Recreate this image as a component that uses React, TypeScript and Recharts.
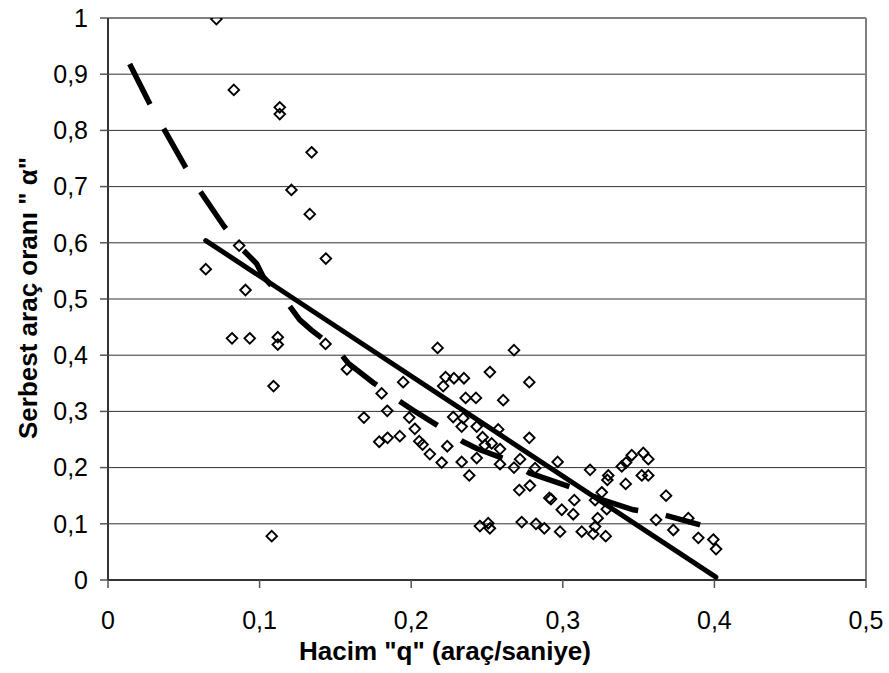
import React from 'react';
import { ScatterChart, Scatter, XAxis, YAxis, CartesianGrid, ReferenceLine, Label } from 'recharts';

const qValues = [
  0.0715, 0.083, 0.1133, 0.1133, 0.121, 0.0865, 0.0645, 0.0907, 0.1343, 0.1331,
  0.1437, 0.0818, 0.0935, 0.112, 0.112, 0.1092, 0.108, 0.1435, 0.2174, 0.1576,
  0.1947, 0.2227, 0.2282, 0.2348, 0.2211, 0.1805, 0.2359, 0.2427, 0.1842, 0.1688,
  0.1987, 0.2277, 0.2343, 0.2333, 0.2432, 0.2024, 0.1789, 0.1844, 0.1925, 0.2053,
  0.2075, 0.2123, 0.2238, 0.2201, 0.2333, 0.2432, 0.2383, 0.2678, 0.2519, 0.2779,
  0.2607, 0.2574, 0.2471, 0.2779, 0.2486, 0.2531, 0.2586, 0.2586, 0.2718, 0.2678,
  0.2966, 0.2817, 0.318, 0.33, 0.3389, 0.3417, 0.3455, 0.3531, 0.3564, 0.3521,
  0.3564, 0.3294, 0.3415, 0.2713, 0.2783, 0.2911, 0.2922, 0.3076, 0.3257, 0.3213,
  0.329, 0.2993, 0.3069, 0.323, 0.2453, 0.2508, 0.2519, 0.2729, 0.2823, 0.2878,
  0.2982, 0.3125, 0.3201, 0.3213, 0.3283, 0.3615, 0.3681, 0.3828, 0.3729, 0.3894,
  0.3993, 0.4011,
];
const alphaValues = [
  0.998, 0.872, 0.841, 0.829, 0.694, 0.595, 0.553, 0.516, 0.761, 0.651,
  0.572, 0.43, 0.43, 0.432, 0.419, 0.345, 0.078, 0.42, 0.413, 0.375,
  0.352, 0.361, 0.359, 0.359, 0.345, 0.332, 0.324, 0.324, 0.301, 0.289,
  0.289, 0.29, 0.288, 0.273, 0.273, 0.269, 0.246, 0.253, 0.256, 0.247,
  0.241, 0.224, 0.238, 0.209, 0.21, 0.217, 0.186, 0.409, 0.37, 0.352,
  0.32, 0.268, 0.254, 0.253, 0.24, 0.243, 0.233, 0.206, 0.215, 0.2,
  0.21, 0.199, 0.196, 0.186, 0.202, 0.209, 0.222, 0.226, 0.215, 0.186,
  0.186, 0.178, 0.171, 0.16, 0.168, 0.146, 0.144, 0.142, 0.156, 0.142,
  0.126, 0.125, 0.117, 0.11, 0.096, 0.101, 0.092, 0.103, 0.1, 0.092,
  0.086, 0.086, 0.082, 0.095, 0.078, 0.107, 0.15, 0.11, 0.089, 0.075,
  0.072, 0.055,
];

const regressionQ = [0.0645, 0.401];
const regressionAlpha = [0.604, 0.005];

const trendQ = [
  0.0143, 0.028, 0.0374, 0.0513, 0.0605, 0.0764, 0.087, 0.098, 0.1023, 0.1177,
  0.1265, 0.134, 0.1518, 0.1584, 0.175, 0.1914, 0.2013, 0.2168, 0.2343, 0.2432,
  0.2607, 0.2783, 0.3047, 0.3267, 0.3465, 0.3663, 0.3906,
];
const trendAlpha = [
  0.918, 0.845, 0.8, 0.734, 0.693, 0.63, 0.593, 0.563, 0.54, 0.495,
  0.463, 0.445, 0.408, 0.386, 0.351, 0.32, 0.302, 0.276, 0.246, 0.234,
  0.2165, 0.19, 0.166, 0.142, 0.125, 0.116, 0.098,
];

const xTicks = [0, 0.1, 0.2, 0.3, 0.4, 0.5];
const yTicks = [0, 0.1, 0.2, 0.3, 0.4, 0.5, 0.6, 0.7, 0.8, 0.9, 1];

const xTitle = 'Hacim "q" (araç/saniye)';
const yTitle = 'Serbest araç oranı " α"';

const points = qValues.map((q, i) => ({ x: q, y: alphaValues[i] }));
const regression = regressionQ.map((q, i) => ({ x: q, y: regressionAlpha[i] }));
const trend = trendQ.map((q, i) => ({ x: q, y: trendAlpha[i] }));

const fmt = (v: number) => (Number.isInteger(v) ? String(v) : v.toFixed(1).replace('.', ','));

const FONT = '"Liberation Sans", Arial, sans-serif';

const Diamond = (props: any) => {
  const { cx, cy } = props;
  if (cx == null || cy == null) return <g />;
  const r = 5.3;
  return (
    <path
      d={`M${cx},${cy - r}L${cx + r},${cy}L${cx},${cy + r}L${cx - r},${cy}Z`}
      fill="none"
      stroke="#000"
      strokeWidth={1.9}
    />
  );
};

const NoDot = () => <g />;

export default function App() {
  return (
    <div style={{ position: 'absolute', left: 0, top: 0, background: '#fff' }}>
      <ScatterChart
        width={889}
        height={673}
        margin={{ top: 18, right: 23, bottom: 0, left: 0 }}
        style={{ fontFamily: FONT }}
      >
        <CartesianGrid horizontal vertical={false} stroke="#333" strokeWidth={1} />
        <XAxis
          type="number"
          dataKey="x"
          domain={[0, 0.5]}
          ticks={xTicks}
          tickFormatter={fmt}
          height={93}
          axisLine={{ stroke: '#333', strokeWidth: 2 }}
          tickLine={{ stroke: '#555', strokeWidth: 1.5 }}
          tickSize={8}
          tickMargin={23}
          tick={{ fill: '#000', fontSize: 25, fontFamily: FONT }}
          allowDataOverflow
        >
          <Label
            content={() => (
              <text x={445} y={660} textAnchor="middle" fontSize={26} fontWeight="bold" fontFamily={FONT} fill="#000">
                {xTitle}
              </text>
            )}
          />
        </XAxis>
        <YAxis
          type="number"
          dataKey="y"
          domain={[0, 1]}
          ticks={yTicks}
          tickFormatter={fmt}
          width={108}
          axisLine={{ stroke: '#333', strokeWidth: 2 }}
          tickLine={{ stroke: '#555', strokeWidth: 1.5 }}
          tickSize={8}
          tickMargin={12}
          tick={{ fill: '#000', fontSize: 25, fontFamily: FONT }}
          allowDataOverflow
        >
          <Label
            content={() => (
              <text
                x={28}
                y={298}
                transform="rotate(-90 28 298)"
                textAnchor="middle"
                dominantBaseline="central"
                fontSize={26}
                fontWeight="bold"
                fontFamily={FONT}
                fill="#000"
              >
                {yTitle}
              </text>
            )}
          />
        </YAxis>
        <ReferenceLine y={1} stroke="#808080" strokeWidth={2} />
        <ReferenceLine x={0.5} stroke="#808080" strokeWidth={2} />
        <Scatter
          data={trend}
          isAnimationActive={false}
          shape={NoDot}
          line={{ stroke: '#000', strokeWidth: 5.5, strokeDasharray: '45 28' }}
          lineType="joint"
        />
        <Scatter
          data={regression}
          isAnimationActive={false}
          shape={NoDot}
          line={{ stroke: '#000', strokeWidth: 5, strokeLinecap: 'round' }}
          lineType="joint"
        />
        <Scatter data={points} isAnimationActive={false} shape={Diamond} />
      </ScatterChart>
    </div>
  );
}
